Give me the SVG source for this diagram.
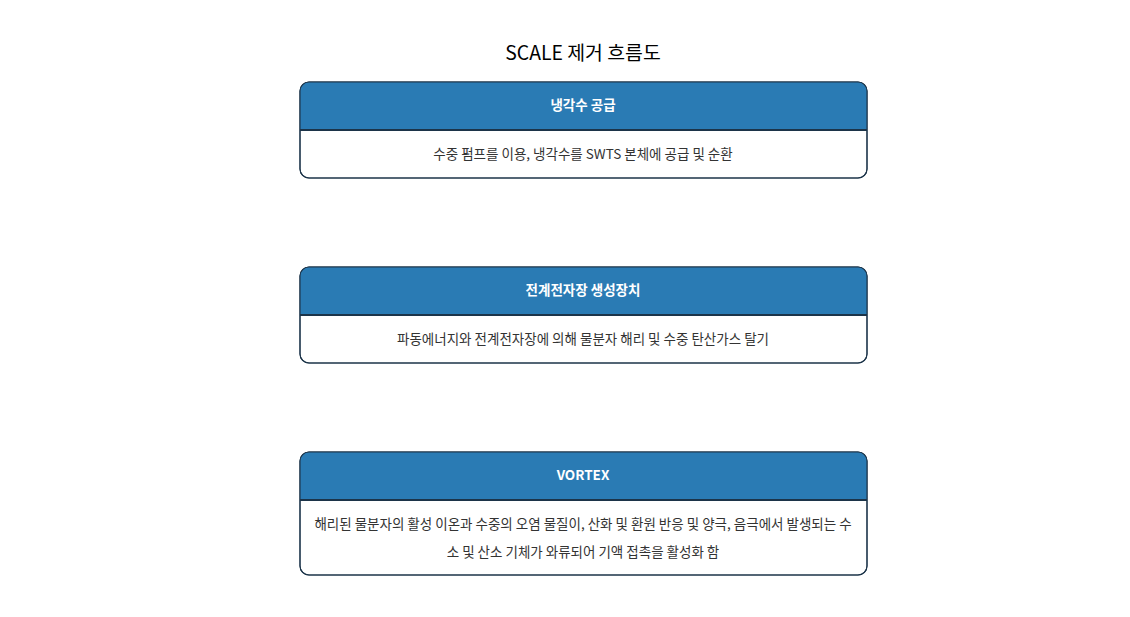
<svg xmlns="http://www.w3.org/2000/svg" width="1130" height="617" viewBox="0 0 1130 617">
<style>
.title{font-family:"Noto Sans CJK KR","Noto Sans",sans-serif;font-size:19.4px;fill:#000;text-anchor:middle}
.box{fill:#fff;stroke:#1c3449;stroke-width:1.1}
.hdr{fill:#2a7bb4}
.div{stroke:#1c3449;stroke-width:2}
.ht{font-family:"Noto Sans CJK KR","Noto Sans",sans-serif;font-size:13.5px;font-weight:bold;fill:#fff;text-anchor:middle}
.bt{font-family:"Noto Sans CJK KR","Noto Sans",sans-serif;font-size:13.5px;fill:#333;text-anchor:middle}
</style>
<defs>
<clipPath id="c1"><rect x="300" y="82" width="567" height="96" rx="9"/></clipPath>
<clipPath id="c2"><rect x="300" y="267" width="567" height="96" rx="9"/></clipPath>
<clipPath id="c3"><rect x="300" y="452" width="567" height="123" rx="9"/></clipPath>
</defs>
<rect width="1130" height="617" fill="#fff"/>
<text class="title" x="583" y="60">SCALE 제거 흐름도</text>
<g id="connectors"></g>
<g id="node1">
<rect class="box" x="300" y="82" width="567" height="96" rx="9"/>
<rect class="hdr" x="300" y="82" width="567" height="48" clip-path="url(#c1)"/>
<rect x="300" y="82" width="567" height="96" rx="9" fill="none" stroke="#1c3449" stroke-width="1.1"/>
<line class="div" x1="300" y1="130" x2="867" y2="130"/>
<text class="ht" x="583" y="110">냉각수 공급</text>
<text class="bt" x="583" y="159">수중 펌프를 이용, 냉각수를 SWTS 본체에 공급 및 순환</text>
</g>
<g id="node2">
<rect class="box" x="300" y="267" width="567" height="96" rx="9"/>
<rect class="hdr" x="300" y="267" width="567" height="48" clip-path="url(#c2)"/>
<rect x="300" y="267" width="567" height="96" rx="9" fill="none" stroke="#1c3449" stroke-width="1.1"/>
<line class="div" x1="300" y1="315" x2="867" y2="315"/>
<text class="ht" x="583" y="295">전계전자장 생성장치</text>
<text class="bt" x="583" y="344">파동에너지와 전계전자장에 의해 물분자 해리 및 수중 탄산가스 탈기</text>
</g>
<g id="node3">
<rect class="box" x="300" y="452" width="567" height="123" rx="9"/>
<rect class="hdr" x="300" y="452" width="567" height="48" clip-path="url(#c3)"/>
<rect x="300" y="452" width="567" height="123" rx="9" fill="none" stroke="#1c3449" stroke-width="1.1"/>
<line class="div" x1="300" y1="500" x2="867" y2="500"/>
<text class="ht" x="583" y="480">VORTEX</text>
<text class="bt" x="583" y="529">해리된 물분자의 활성 이온과 수중의 오염 물질이, 산화 및 환원 반응 및 양극, 음극에서 발생되는 수</text>
<text class="bt" x="583" y="557">소 및 산소 기체가 와류되어 기액 접촉을 활성화 함</text>
</g>
</svg>
